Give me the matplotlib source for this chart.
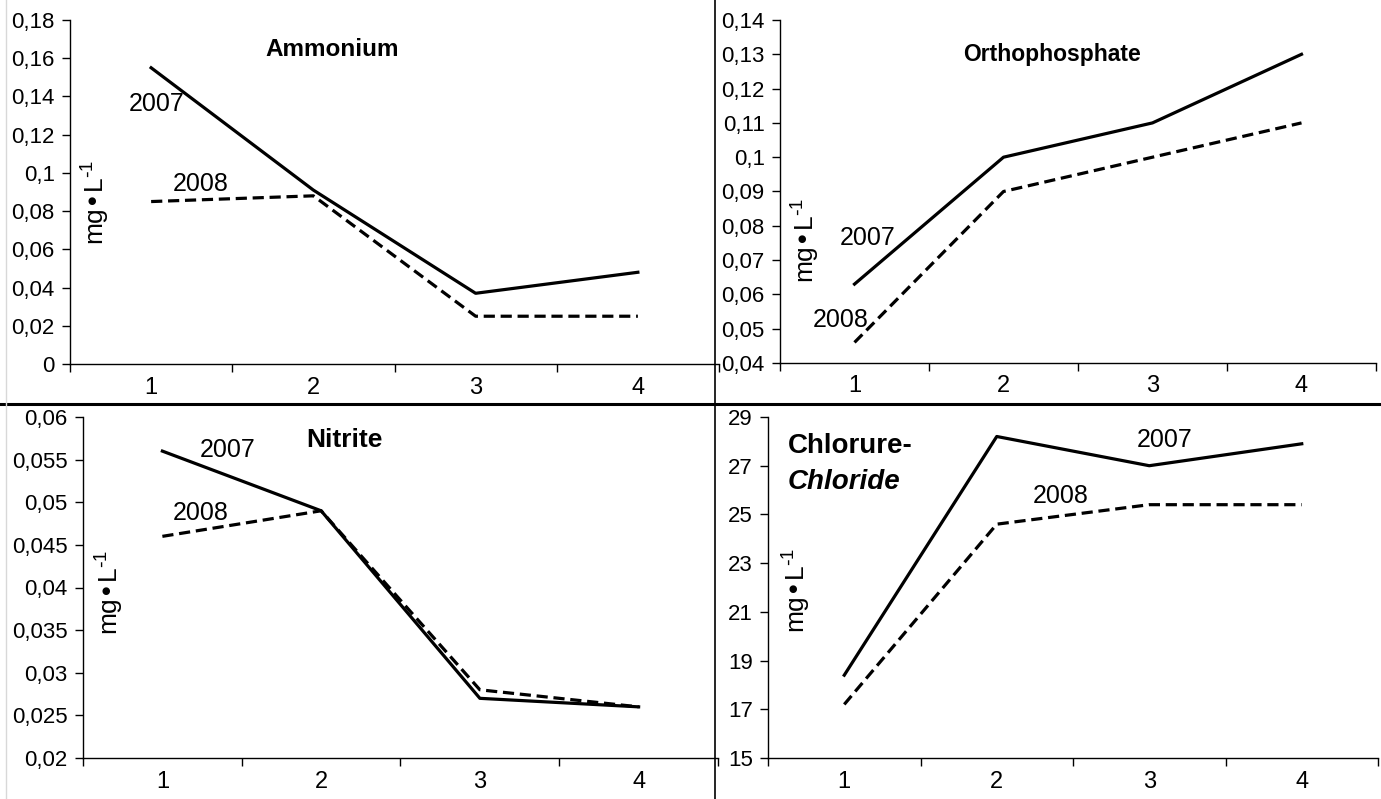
import matplotlib
matplotlib.use("Agg")
import matplotlib.pyplot as plt
from matplotlib.lines import Line2D
import numpy as np

plt.rcParams["font.family"] = ["Liberation Sans", "DejaVu Sans"]
plt.rcParams["mathtext.default"] = "regular"

stations = [1, 2, 3, 4]
station_labels = ["1", "2", "3", "4"]

ammonium_2007 = [0.155, 0.091, 0.037, 0.048]
ammonium_2008 = [0.085, 0.088, 0.025, 0.025]
phosphate_2007 = [0.063, 0.100, 0.110, 0.130]
phosphate_2008 = [0.046, 0.090, 0.100, 0.110]
nitrite_2007 = [0.056, 0.049, 0.027, 0.026]
nitrite_2008 = [0.046, 0.049, 0.028, 0.026]
chloride_2007 = [18.4, 28.2, 27.0, 27.9]
chloride_2008 = [17.2, 24.6, 25.4, 25.4]

W, H = 1381, 799
fig = plt.figure(figsize=(W / 100, H / 100), dpi=100)


def fx(x):
    return x / W


def fy(y):
    return 1 - y / H


def box(l, r, t, b):
    return [l / W, 1 - b / H, (r - l) / W, (b - t) / H]


def fmt(v, dec):
    s = f"{v:.{dec}f}".rstrip("0").rstrip(".")
    return s.replace(".", ",")


def panel(rect, y07, y08, ylim, ystep, dec, lab07, lab08, ylab_xy):
    ax = fig.add_axes(box(*rect))
    ax.plot(stations, y07, color="black", lw=2.3)
    ax.plot(stations, y08, color="black", lw=2.3, ls=(0, (3.5, 1.8)))
    ax.set_xlim(0.5, 4.5)
    ax.set_ylim(*ylim)
    yt = np.arange(ylim[0], ylim[1] + ystep / 2, ystep)
    ax.set_yticks(yt)
    ax.set_yticklabels([fmt(v, dec) for v in yt], fontsize=16)
    ax.set_xticks(np.arange(0.5, 4.6, 1.0))
    ax.set_xticklabels([])
    ax.set_xticks(stations, minor=True)
    ax.set_xticklabels(station_labels, minor=True, fontsize=17,
                       family=["Liberation Sans Narrow", "Liberation Sans"])
    ax.tick_params(axis="x", which="minor", length=0, pad=9)
    ax.tick_params(axis="x", which="major", length=6, width=1, direction="out")
    ax.tick_params(axis="y", length=6, width=1, direction="out", pad=5)
    for s in ("top", "right"):
        ax.spines[s].set_visible(False)
    for s in ("left", "bottom"):
        ax.spines[s].set_linewidth(1)
    ax.text(lab07[0], lab07[1], "2007", transform=fig.transFigure, fontsize=18,
            ha="center", va="center")
    ax.text(lab08[0], lab08[1], "2008", transform=fig.transFigure, fontsize=18,
            ha="center", va="center")
    ax.text(ylab_xy[0], ylab_xy[1], r"mg•L$^{\text{-}1}$", transform=fig.transFigure,
            fontsize=19, rotation=90, ha="center", va="center")
    return ax


ax1 = panel((70, 719, 20, 364), ammonium_2007, ammonium_2008, (0, 0.18), 0.02, 2,
            (fx(157), fy(104)), (fx(201), fy(184)), (fx(96), fy(202)))
ax1.text(fx(332), fy(49), "Ammonium", transform=fig.transFigure, fontsize=17.5,
         fontweight="bold", ha="center", va="center")

ax2 = panel((780, 1376, 20, 363), phosphate_2007, phosphate_2008, (0.04, 0.14), 0.01, 2,
            (fx(868), fy(238)), (fx(841), fy(320)), (fx(806), fy(240)))
ax2.text(fx(1052), fy(55), "Orthophosphate", transform=fig.transFigure, fontsize=16.5,
         fontweight="bold", ha="center", va="center")

ax3 = panel((83, 718, 417, 758), nitrite_2007, nitrite_2008, (0.02, 0.06), 0.005, 3,
            (fx(228), fy(450)), (fx(201), fy(513)), (fx(110), fy(592)))
ax3.text(fx(344), fy(440), "Nitrite", transform=fig.transFigure, fontsize=19,
         fontweight="bold", ha="center", va="center")

ax4 = panel((768, 1378, 417, 758), chloride_2007, chloride_2008, (15, 29), 2, 0,
            (fx(1165), fy(440)), (fx(1061), fy(496)), (fx(797), fy(590)))
ax4.text(fx(788), fy(446), "Chlorure-", transform=fig.transFigure, fontsize=20,
         fontweight="bold", ha="left", va="center")
ax4.text(fx(788), fy(482), "Chloride", transform=fig.transFigure, fontsize=20,
         fontweight="bold", style="italic", ha="left", va="center")

# panel dividers
fig.add_artist(Line2D([0, 1], [fy(404), fy(404)], color="black", lw=2.2))
fig.add_artist(Line2D([fx(715), fx(715)], [0, 1], color="black", lw=1.2))
fig.add_artist(Line2D([fx(6), fx(6)], [0, 1], color="#d8d8d8", lw=1.0))

fig.savefig("out.png", dpi=100)
